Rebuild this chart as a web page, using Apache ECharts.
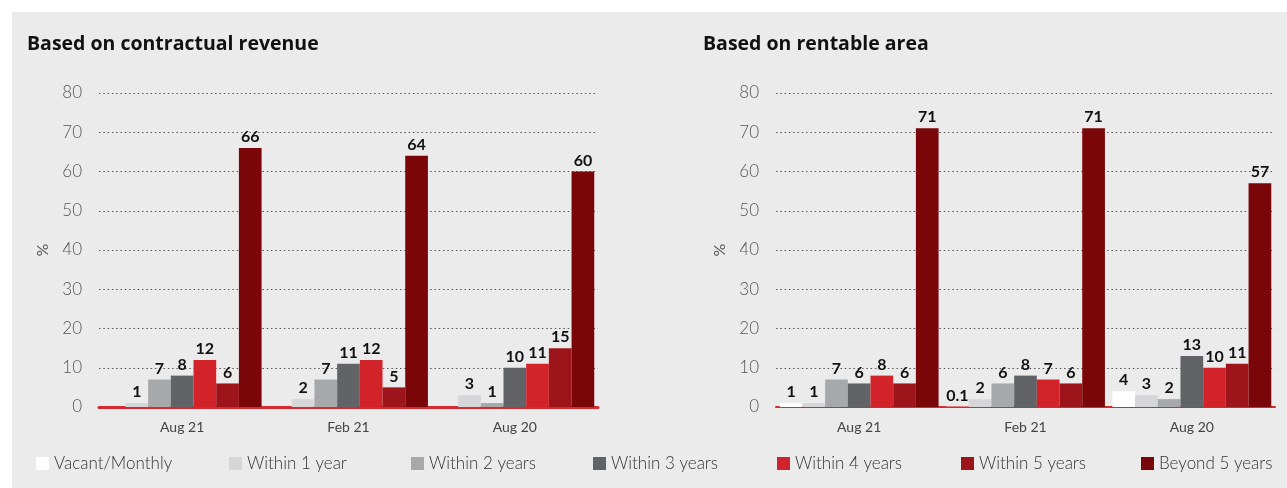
<!DOCTYPE html>
<html><head><meta charset="utf-8">
<script src="https://cdn.jsdelivr.net/npm/echarts@6/dist/echarts.min.js"></script>
<style>
html,body{margin:0;padding:0;background:#fff;}
#bg{position:absolute;left:12px;top:12px;width:1275px;height:476px;background:#ebebeb;}
#chart{position:absolute;left:0;top:0;width:1287px;height:488px;}
</style></head><body>
<div id="bg"></div><div id="chart"></div>
<script>
const categories = ['Aug 21', 'Feb 21', 'Aug 20'];
const seriesNames = ['Vacant/Monthly', 'Within 1 year', 'Within 2 years', 'Within 3 years', 'Within 4 years', 'Within 5 years', 'Beyond 5 years'];
const seriesColors = ['#ffffff', '#d6d6d8', '#a7a8aa', '#626366', '#d2232a', '#9d141b', '#7a0609'];
const yTicks = { min: 0, max: 80, interval: 10 };
const chartTitles = ['Based on contractual revenue', 'Based on rentable area'];

// Based on contractual revenue (%)
const revVacant = [0, 0, 0];
const revWithin1 = [1, 2, 3];
const revWithin2 = [7, 7, 1];
const revWithin3 = [8, 11, 10];
const revWithin4 = [12, 12, 11];
const revWithin5 = [6, 5, 15];
const revBeyond5 = [66, 64, 60];

// Based on rentable area (%)
const areaVacant = [1, 0.1, 4];
const areaWithin1 = [1, 2, 3];
const areaWithin2 = [7, 6, 2];
const areaWithin3 = [6, 8, 13];
const areaWithin4 = [8, 7, 10];
const areaWithin5 = [6, 6, 11];
const areaBeyond5 = [71, 71, 57];

const revSeries = [revVacant, revWithin1, revWithin2, revWithin3, revWithin4, revWithin5, revBeyond5];
const areaSeries = [areaVacant, areaWithin1, areaWithin2, areaWithin3, areaWithin4, areaWithin5, areaBeyond5];

const FONT = 'Lato, "Open Sans", sans-serif';

function makeSeries(dataList, idx) {
  return dataList.map((d, i) => ({
    name: seriesNames[i],
    type: 'bar',
    xAxisIndex: idx,
    yAxisIndex: idx,
    data: d,
    barGap: '0%',
    barCategoryGap: '4.5%',
    itemStyle: { color: seriesColors[i] },
    label: {
      show: true,
      position: 'top',
      distance: 3,
      fontFamily: FONT,
      fontWeight: 'bold',
      fontSize: 16,
      color: '#111',
      formatter: p => (p.value === 0 ? '' : String(p.value))
    }
  }));
}

function makeX(idx, lineW) {
  return {
    type: 'category', gridIndex: idx, data: categories,
    axisLine: { show: true, lineStyle: { color: '#d42a30', width: lineW } },
    axisTick: { show: false },
    axisLabel: { color: '#444', fontFamily: FONT, fontSize: 14, margin: 13 }
  };
}
function makeY(idx) {
  return {
    type: 'value', gridIndex: idx, min: yTicks.min, max: yTicks.max, interval: yTicks.interval,
    name: '%', nameLocation: 'middle', nameGap: 48, nameRotate: 90,
    nameTextStyle: { color: '#555', fontFamily: FONT, fontSize: 16 },
    axisLine: { show: false }, axisTick: { show: false },
    axisLabel: { color: '#555', fontFamily: FONT, fontWeight: 300, fontSize: 17, margin: 17 },
    splitLine: { show: true, lineStyle: { color: '#555', width: 1, type: [1.5, 2.8] } }
  };
}

const titleStyle = { fontFamily: '"Open Sans", Lato, sans-serif', fontWeight: 'bold', fontSize: 19.5, color: '#111' };

// one legend entry per slot along the bottom
const legendSlots = [36, 229, 411, 593, 777, 961, 1141];
const legends = seriesNames.map((n, i) => ({
  data: [n], left: legendSlots[i], top: 455, padding: 0,
  icon: 'rect', itemWidth: 13, itemHeight: 13,
  textStyle: { fontFamily: FONT, fontWeight: 300, fontSize: 17, color: '#333' },
  selectedMode: false
}));

const chart = echarts.init(document.getElementById('chart'), null, { renderer: 'canvas' });
chart.setOption({
  backgroundColor: 'transparent',
  animation: false,
  title: [
    { text: chartTitles[0], left: 27, top: 34, padding: 0, textStyle: titleStyle },
    { text: chartTitles[1], left: 703, top: 34, padding: 0, textStyle: titleStyle }
  ],
  legend: legends,
  grid: [
    { left: 99, width: 499, top: 93, height: 314 },
    { left: 776, width: 499, top: 93, height: 314 }
  ],
  xAxis: [makeX(0, 3), makeX(1, 2)],
  yAxis: [makeY(0), makeY(1)],
  series: [...makeSeries(revSeries, 0), ...makeSeries(areaSeries, 1)]
});
</script>
</body></html>
